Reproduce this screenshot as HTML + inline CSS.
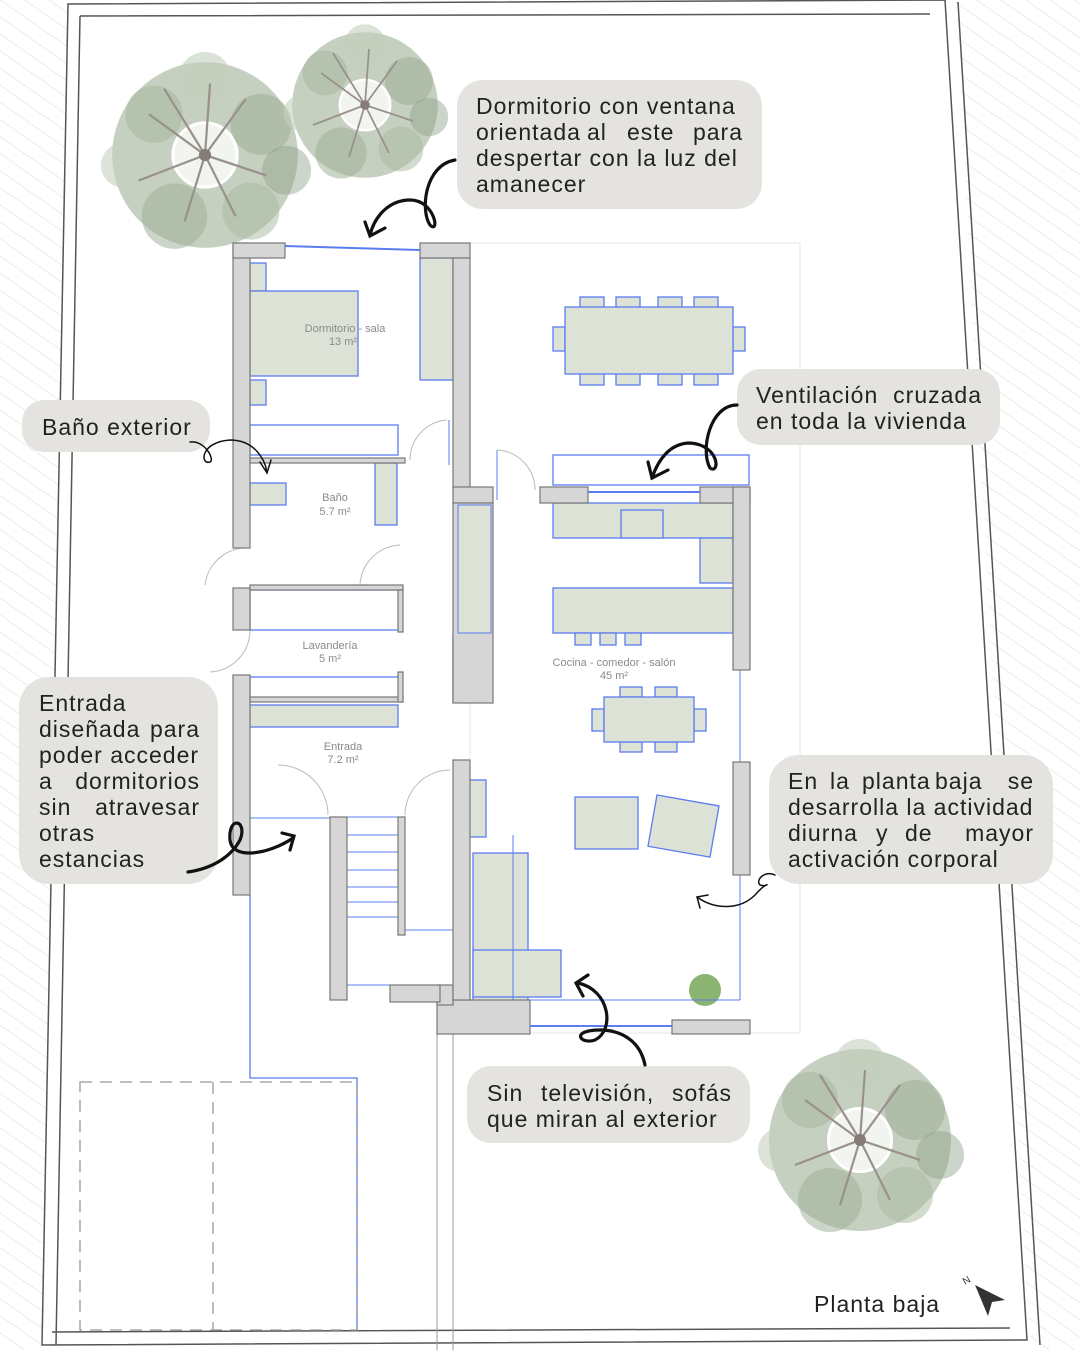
<!DOCTYPE html>
<html><head><meta charset="utf-8"><style>
html,body{margin:0;padding:0;background:#fff}
svg{display:block}
text{font-family:"Liberation Sans",sans-serif}
</style></head><body>
<svg width="1080" height="1350" viewBox="0 0 1080 1350" xmlns="http://www.w3.org/2000/svg">
<defs>
<pattern id="h" width="14" height="14" patternUnits="userSpaceOnUse" patternTransform="rotate(-55)">
<line x1="0" y1="0" x2="0" y2="14" stroke="#dadada" stroke-width="1"/>
</pattern>
<g id="tree">
<circle r="62" fill="none" stroke="#bcc8b5" stroke-width="58" opacity="0.85"/>
<circle cx="-50" cy="-40" r="28" fill="#a4b49c" opacity=".5"/>
<circle cx="55" cy="-30" r="30" fill="#98aa92" opacity=".5"/>
<circle cx="-30" cy="60" r="32" fill="#9aac94" opacity=".5"/>
<circle cx="45" cy="55" r="28" fill="#a8b7a0" opacity=".5"/>
<circle cx="0" cy="-75" r="26" fill="#c3cfbc" opacity=".6"/>
<circle cx="-80" cy="10" r="22" fill="#c6d0bf" opacity=".6"/>
<circle cx="80" cy="15" r="24" fill="#8ea288" opacity=".45"/>
<circle r="30" fill="#e8ede4" opacity=".6"/>
<g stroke="#9a918c" stroke-width="2.2" fill="none">
<path d="M0 0 L-55 -40 M0 0 L40 -55 M0 0 L60 20 M0 0 L-20 65 M0 0 L-65 25 M0 0 L30 60 M0 0 L5 -70 M0 0 L-40 -65"/>
</g>
<circle r="6" fill="#857c78"/>
</g>
</defs>
<rect width="1080" height="1350" fill="#fff"/>
<polygon points="0,0 68,0 42,1350 0,1350" fill="url(#h)"/>
<polygon points="955,0 1080,0 1080,1350 1030,1350" fill="url(#h)"/>
<g stroke="#555" stroke-width="1.5" fill="none">
<path d="M68 4 L945 0 L1027 1340 L42 1345 Z"/>
<path d="M80 16 L930 14 M958 2 L1040 1345 M52 1332 L1010 1328 M80 16 L56 1345"/>
</g>
<g stroke="#5b7cf0" stroke-width="1.3" fill="none">
<path d="M250 895 L250 1078 L357 1078 L357 1330"/>
</g>
<g stroke="#999" stroke-width="1" fill="none">
<path d="M437 1034 L437 1350 M453 1034 L453 1350"/>
<rect x="470" y="243" width="330" height="790" stroke="#e6e6e6"/>
</g>
<g stroke="#999" stroke-width="1.3" stroke-dasharray="12 8" fill="none">
<rect x="80" y="1082" width="277" height="248"/>
<path d="M213 1082 L213 1330"/>
</g>
<use href="#tree" transform="translate(205,155) scale(1.02)"/>
<use href="#tree" transform="translate(365,105) scale(.8)"/>
<use href="#tree" transform="translate(860,1140) scale(1)"/>
<g fill="#dde2d6" stroke="#5b7cf0" stroke-width="1.3">
<rect x="250" y="263" width="16" height="28"/>
<rect x="250" y="291" width="108" height="85"/>
<rect x="250" y="380" width="16" height="25"/>
<rect x="420" y="258" width="33" height="122"/>
<rect x="250" y="425" width="148" height="30" fill="#fff"/>
<rect x="250" y="483" width="36" height="22"/>
<rect x="375" y="463" width="22" height="62"/>
<rect x="250" y="590" width="150" height="40" fill="#fff"/>
<rect x="250" y="677" width="150" height="22" fill="#fff"/>
<rect x="250" y="705" width="148" height="22"/>
<rect x="458" y="505" width="33" height="128"/>
<rect x="453" y="636" width="35" height="65" fill="#fff"/>
<rect x="553" y="455" width="196" height="30" fill="#fff"/>
<rect x="553" y="503" width="180" height="35"/>
<rect x="700" y="538" width="33" height="45"/>
<rect x="553" y="588" width="180" height="45"/>
<rect x="621" y="510" width="42" height="28"/>
<rect x="580" y="297" width="24" height="12"/><rect x="616" y="297" width="24" height="12"/><rect x="658" y="297" width="24" height="12"/><rect x="694" y="297" width="24" height="12"/>
<rect x="580" y="373" width="24" height="12"/><rect x="616" y="373" width="24" height="12"/><rect x="658" y="373" width="24" height="12"/><rect x="694" y="373" width="24" height="12"/>
<rect x="553" y="327" width="12" height="24"/><rect x="733" y="327" width="12" height="24"/>
<rect x="565" y="307" width="168" height="67"/>
<rect x="575" y="633" width="16" height="12"/><rect x="600" y="633" width="16" height="12"/><rect x="625" y="633" width="16" height="12"/>
<rect x="620" y="687" width="22" height="10"/><rect x="655" y="687" width="22" height="10"/>
<rect x="620" y="742" width="22" height="10"/><rect x="655" y="742" width="22" height="10"/>
<rect x="592" y="709" width="12" height="22"/><rect x="694" y="709" width="12" height="22"/>
<rect x="604" y="697" width="90" height="45"/>
<rect x="575" y="797" width="63" height="52"/>
<rect x="652" y="800" width="63" height="52" transform="rotate(10 683 826)"/>
<rect x="473" y="853" width="55" height="150"/>
<rect x="473" y="950" width="88" height="47"/>
<rect x="462" y="780" width="24" height="57"/>
</g>
<circle cx="705" cy="990" r="16" fill="#8ab470"/>
<g stroke="#5b7cf0" stroke-width="1" fill="none">
<path d="M347 817 L398 817 M347 835 L398 835 M347 852 L398 852 M347 870 L398 870 M347 887 L398 887 M347 902 L398 902 M347 917 L398 917"/>
<path d="M405 817 L405 930 L453 930 M347 950 L347 985 L390 985"/>
<path d="M250 818 L330 818 M513 835 L513 1000 L740 1000 M740 670 L740 1000"/>
<path d="M497 450 L497 500 M449 420 L449 465"/>
</g>
<g stroke="#bbb" stroke-width="1" fill="none">
<path d="M447 420 A40 40 0 0 0 410 460"/>
<path d="M497 450 A40 40 0 0 1 535 490"/>
<path d="M250 548 A42 42 0 0 0 205 585 M250 630 A42 42 0 0 1 210 672"/>
<path d="M400 545 A42 42 0 0 0 360 585"/>
<path d="M278 765 A50 50 0 0 1 328 815 M405 815 A45 45 0 0 1 450 770"/>
</g>
<g fill="#d6d6d6" stroke="#777" stroke-width="1.2">
<rect x="233" y="243" width="17" height="305"/>
<rect x="233" y="243" width="52" height="15"/>
<rect x="420" y="243" width="50" height="15"/>
<rect x="453" y="258" width="17" height="232"/>
<rect x="453" y="487" width="40" height="16"/>
<rect x="233" y="588" width="17" height="42"/>
<rect x="233" y="675" width="17" height="220"/>
<rect x="250" y="458" width="155" height="5"/>
<rect x="250" y="585" width="153" height="5"/>
<rect x="398" y="590" width="5" height="42"/>
<rect x="250" y="697" width="153" height="5"/>
<rect x="398" y="672" width="5" height="30"/>
<rect x="453" y="503" width="40" height="200"/>
<rect x="540" y="487" width="48" height="16"/>
<rect x="700" y="487" width="50" height="16"/>
<rect x="733" y="487" width="17" height="183"/>
<rect x="733" y="762" width="17" height="113"/>
<rect x="672" y="1020" width="78" height="14"/>
<rect x="437" y="1000" width="93" height="34"/>
<rect x="437" y="985" width="16" height="20"/>
<rect x="330" y="817" width="17" height="183"/>
<rect x="390" y="985" width="50" height="17"/>
<rect x="398" y="817" width="7" height="118"/>
<rect x="453" y="760" width="17" height="240"/>
</g>
<rect x="458" y="505" width="33" height="128" fill="#dde2d6" stroke="#5b7cf0"/>
<g stroke="#5b7cf0" stroke-width="2" fill="none">
<path d="M285 246 L420 250 M588 492 L700 492 M530 1026 L672 1026"/>
</g>
<g fill="#8a8a8a" font-size="11" text-anchor="middle">
<text x="345" y="332">Dormitorio - sala</text><text x="343" y="345">13 m²</text>
<text x="335" y="501">Baño</text><text x="335" y="515">5.7 m²</text>
<text x="330" y="649">Lavandería</text><text x="330" y="662">5 m²</text>
<text x="343" y="750">Entrada</text><text x="343" y="763">7.2 m²</text>
<text x="614" y="666">Cocina - comedor - salón</text><text x="614" y="679">45 m²</text>
</g>
<g fill="#e5e3df">
<rect x="457" y="80" width="305" height="129" rx="26"/>
<rect x="22" y="400" width="188" height="52" rx="22"/>
<rect x="737" y="369" width="263" height="76" rx="24"/>
<rect x="19" y="677" width="199" height="207" rx="30"/>
<rect x="769" y="755" width="284" height="129" rx="30"/>
<rect x="467" y="1066" width="283" height="77" rx="24"/>
</g>
<g fill="#222" font-size="23" letter-spacing="1">
<text x="476" y="114">Dormitorio con ventana</text>
<text x="476" y="140">orientada</text><text x="587" y="140">al</text><text x="627" y="140">este</text><text x="743" y="140" text-anchor="end">para</text>
<text x="476" y="166">despertar con la luz del</text>
<text x="476" y="192">amanecer</text>
<text x="42" y="435">Baño exterior</text>
<text x="756" y="403">Ventilación</text><text x="982" y="403" text-anchor="end">cruzada</text>
<text x="756" y="429">en toda la vivienda</text>
<text x="39" y="711">Entrada</text>
<text x="39" y="737">diseñada</text><text x="200" y="737" text-anchor="end">para</text>
<text x="39" y="763">poder acceder</text>
<text x="39" y="789">a</text><text x="200" y="789" text-anchor="end">dormitorios</text>
<text x="39" y="815">sin</text><text x="200" y="815" text-anchor="end">atravesar</text>
<text x="39" y="841">otras</text>
<text x="39" y="867">estancias</text>
<text x="788" y="789">En</text><text x="830" y="789">la</text><text x="862" y="789">planta</text><text x="935" y="789">baja</text><text x="1034" y="789" text-anchor="end">se</text>
<text x="788" y="815">desarrolla la actividad</text>
<text x="788" y="841">diurna</text><text x="876" y="841">y</text><text x="905" y="841">de</text><text x="1034" y="841" text-anchor="end">mayor</text>
<text x="788" y="867">activación corporal</text>
<text x="487" y="1101">Sin</text><text x="541" y="1101">televisión,</text><text x="732" y="1101" text-anchor="end">sofás</text>
<text x="487" y="1127">que miran al exterior</text>
<text x="814" y="1312">Planta baja</text>
</g>
<text x="965" y="1285" font-size="10" fill="#333" transform="rotate(-30 965 1285)">N</text>
<path d="M975 1285 L1005 1300 L992 1302 L988 1316 Z" fill="#333"/>
<g stroke="#111" stroke-width="3.2" fill="none" stroke-linecap="round">
<path d="M455 160 C425 165 420 210 430 225 C440 235 435 200 410 200 C390 200 375 215 370 235"/>
<path d="M365 222 L370 236 L385 228"/>
<path d="M737 405 C710 405 700 450 710 468 C720 475 720 445 690 443 C670 443 658 460 652 478"/>
<path d="M648 462 L652 478 L668 470"/>
<path d="M188 872 C215 868 232 855 240 840 C248 820 228 815 230 840 C232 860 268 855 293 838"/>
<path d="M282 833 L294 836 L290 850"/>
<path d="M645 1065 C640 1040 620 1030 600 1030 C570 1030 580 1045 595 1040 C615 1030 610 990 578 983"/>
<path d="M588 975 L576 983 L583 996"/>
</g>
<g stroke="#111" stroke-width="1.5" fill="none" stroke-linecap="round">
<path d="M190 442 C205 440 215 460 210 462 C200 465 200 442 230 440 C255 440 265 460 267 472"/>
<path d="M260 462 L267 473 L271 460"/>
<path d="M775 875 C765 870 755 880 760 885 C770 888 770 878 755 895 C740 910 715 910 697 897"/>
<path d="M700 908 L697 897 L708 895"/>
</g>
</svg>
</body></html>
